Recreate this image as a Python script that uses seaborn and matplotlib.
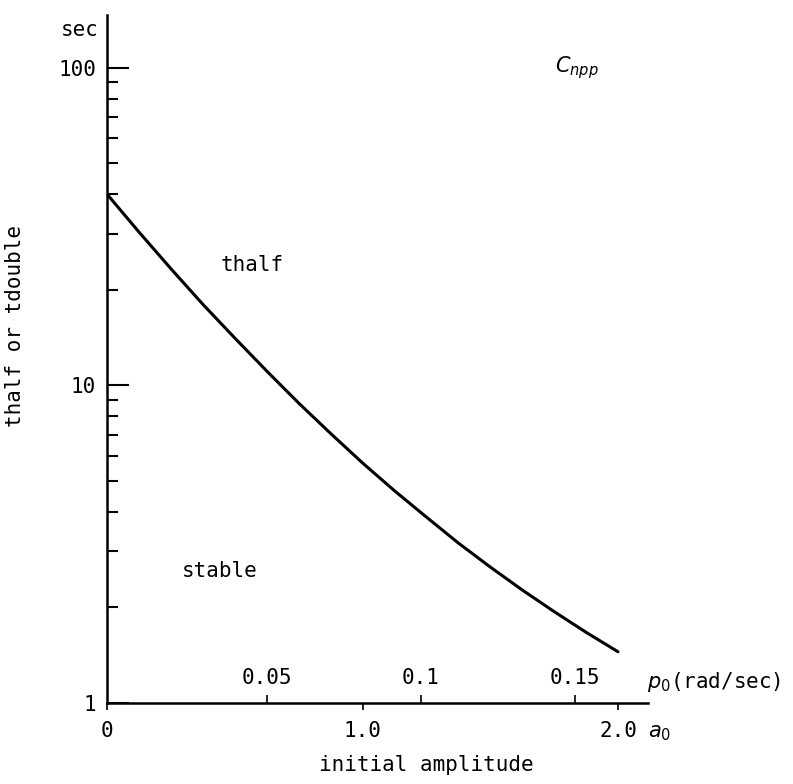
import matplotlib
matplotlib.use("Agg")
import matplotlib.pyplot as plt
import seaborn as sns
import pandas as pd
from matplotlib.ticker import FixedLocator, FixedFormatter, LogLocator, NullFormatter

# ---- data ----
amplitude = [0.0, 0.125, 0.25, 0.375, 0.5, 0.625, 0.75, 0.875, 1.0,
             1.125, 1.25, 1.375, 1.5, 1.625, 1.75, 1.875, 2.0]
t_half = [40.0, 30.4, 23.3, 18.0, 14.1, 11.1, 8.8, 7.06, 5.7,
          4.66, 3.85, 3.19, 2.68, 2.27, 1.94, 1.67, 1.45]
a0_ticks = [0.0, 1.0, 2.0]
a0_labels = ["0", "1.0", "2.0"]
p0_ticks = [0.05, 0.1, 0.15]
p0_labels = ["0.05", "0.1", "0.15"]
y_ticks = [1, 10, 100]
y_labels = ["1", "10", "100"]

df = pd.DataFrame({"a0": amplitude, "t": t_half})

sns.set_theme(style="white")
plt.rcParams["font.family"] = ["DejaVu Sans Mono", "DejaVu Sans"]
plt.rcParams["mathtext.fontset"] = "dejavusans"
plt.rcParams["text.color"] = "black"
plt.rcParams["axes.labelcolor"] = "black"

FS = 15
fig = plt.figure(figsize=(7.93, 7.84), dpi=100)
ax = fig.add_axes([0.135, 0.1033, 0.682, 0.878])

sns.lineplot(data=df, x="a0", y="t", ax=ax, color="black", linewidth=2.2)

ax.set_yscale("log")
ax.set_ylim(1, 147)
ax.set_xlim(0, 2.117)

for s in ["top", "right"]:
    ax.spines[s].set_visible(False)
for s in ["left", "bottom"]:
    ax.spines[s].set_color("black")
    ax.spines[s].set_linewidth(1.8)

# y axis ticks
ax.yaxis.set_major_locator(FixedLocator(y_ticks))
ax.yaxis.set_major_formatter(FixedFormatter(y_labels))
ax.yaxis.set_minor_locator(LogLocator(base=10, subs=range(2, 10)))
ax.yaxis.set_minor_formatter(NullFormatter())
ax.tick_params(axis="y", which="major", direction="in", length=16, width=1.5,
               labelsize=FS, pad=8, colors="black", left=True)
ax.tick_params(axis="y", which="minor", direction="in", length=8, width=1.5,
               colors="black", left=True)

# x axis (a0) ticks
ax.xaxis.set_major_locator(FixedLocator(a0_ticks))
ax.xaxis.set_major_formatter(FixedFormatter(a0_labels))
ax.tick_params(axis="x", which="major", direction="out", length=5, width=1.2,
               labelsize=FS, pad=8, colors="black", bottom=True)
ax.set_xlabel("initial amplitude", fontsize=FS)
ax.xaxis.set_label_coords(0.591, -0.075)
ax.set_ylabel("thalf or tdouble", fontsize=FS)
ax.yaxis.set_label_coords(-0.152, 0.548)

# second scale p0 on the same baseline
def a_to_p(a):
    return (a * 255.5 - 6) / 3080.0

ax2 = ax.twiny()
ax2.set_xlim(a_to_p(0), a_to_p(2.117))
ax2.spines["top"].set_position(("axes", 0))
for s in ax2.spines.values():
    s.set_visible(False)
ax2.xaxis.set_ticks_position("top")
ax2.xaxis.set_major_locator(FixedLocator(p0_ticks))
ax2.xaxis.set_major_formatter(FixedFormatter(p0_labels))
ax2.tick_params(axis="x", which="major", direction="out", length=6, width=1.2,
                labelsize=FS, pad=5, colors="black", top=True)
ax2.grid(False)
ax.grid(False)

# text annotations
ax.text(-0.05, 0.978, "sec", transform=ax.transAxes, fontsize=FS,
        ha="center", va="center")
ax.text(0.998, 0.03, r"$p_0$(rad/sec)", transform=ax.transAxes, fontsize=FS,
        ha="left", va="center")
ax.text(1.0, -0.044, r"$a_0$", transform=ax.transAxes, fontsize=FS,
        ha="left", va="center")
ax.text(1.84, 100, r"$C_{npp}$", fontsize=FS, ha="center", va="center")
ax.text(0.57, 24, "thalf", fontsize=FS, ha="center", va="center")
ax.text(0.44, 2.6, "stable", fontsize=FS, ha="center", va="center")

fig.savefig("out.png", dpi=100)
